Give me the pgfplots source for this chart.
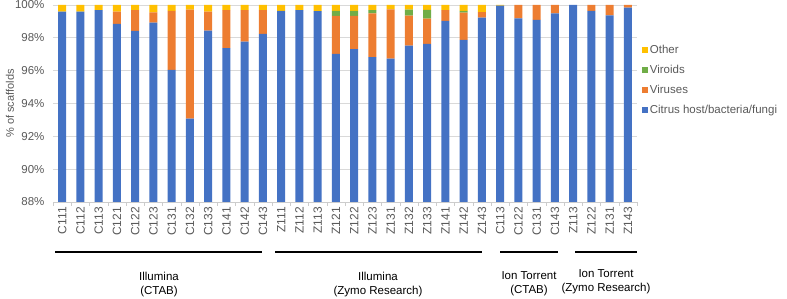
\documentclass[border=0pt]{standalone}
\usepackage{pgfplots}
\pgfplotsset{compat=1.18}
\usepackage{pgfplotstable}
\usepackage{fontspec}
\setmainfont{Liberation Sans}
\definecolor{cblue}{HTML}{4472C4}
\definecolor{corange}{HTML}{ED7D31}
\definecolor{cgreen}{HTML}{70AD47}
\definecolor{cyellow}{HTML}{FFC000}
\definecolor{tgray}{HTML}{595959}
\pgfplotstableread{
x  host   virus  viroid other
0  99.60  0.00   0.00   0.40
1  99.60  0.00   0.00   0.40
2  99.68  0.00   0.00   0.32
3  98.85  0.75   0.00   0.40
4  98.42  1.26   0.00   0.32
5  98.93  0.62   0.00   0.45
6  96.05  3.59   0.00   0.36
7  93.08  6.64   0.00   0.28
8  98.44  1.16   0.00   0.40
9  97.37  2.31   0.00   0.32
10 97.77  1.91   0.00   0.32
11 98.24  1.44   0.00   0.32
12 99.64  0.00   0.00   0.36
13 99.68  0.00   0.00   0.32
14 99.62  0.00   0.00   0.38
15 97.02  2.31   0.31   0.36
16 97.31  2.02   0.31   0.36
17 96.82  2.67   0.19   0.32
18 96.74  3.00   0.00   0.26
19 97.53  1.82   0.37   0.28
20 97.63  1.54   0.53   0.30
21 99.03  0.65   0.00   0.32
22 97.87  1.66   0.11   0.36
23 99.23  0.34   0.00   0.43
24 99.96  0.00   0.00   0.04
25 99.19  0.81   0.00   0.00
26 99.09  0.91   0.00   0.00
27 99.49  0.51   0.00   0.00
28 100.00 0.00   0.00   0.00
29 99.64  0.36   0.00   0.00
30 99.37  0.63   0.00   0.00
31 99.84  0.16   0.00   0.00
}\datatable
\begin{document}
\begin{tikzpicture}
\useasboundingbox (-53pt,-97pt) rectangle (734pt,202pt);
\begin{axis}[
  at={(0pt,0pt)}, anchor=south west,
  scale only axis, width=584pt, height=197pt,
  ybar stacked, bar width=7.8pt,
  xmin=-0.5, xmax=31.5, ymin=88, ymax=100,
  enlargelimits=false,
  xtick={0,...,31},
  xticklabels={C111,C112,C113,C121,C122,C123,C131,C132,C133,C141,C142,C143,Z111,Z112,Z113,Z121,Z122,Z123,Z131,Z132,Z133,Z141,Z142,Z143,C113,C122,C131,C143,Z113,Z122,Z131,Z143},
  x tick label style={rotate=90, anchor=east, font=\fontsize{12}{13}\selectfont, text=tgray, inner sep=1pt, yshift=-0pt, xshift=0pt},
  xticklabel shift=4pt,
  minor xtick={-0.5,0.5,...,31.5},
  major tick length=0pt, minor tick length=4pt, tick align=outside,
  x tick style={draw=gray!40},
  ytick={88,90,...,100},
  yticklabel={\pgfmathprintnumber{\tick}\%},
  /pgf/number format/assume math mode=true,
  y tick label style={font=\fontsize{11.5}{13}\selectfont, text=tgray, xshift=-5pt},
  ymajorgrids, grid style={draw=gray!30, line width=0.8pt},
  axis x line*=bottom, axis y line*=left,
  x axis line style={draw=gray!40, line width=0.8pt},
  y axis line style={draw=none},
  ylabel={\% of scaffolds},
  ylabel style={at={(axis description cs:-0.0736,0.5)}, anchor=center, font=\fontsize{11}{13}\selectfont, text=tgray},
  clip=false,
  legend style={at={(1.008,0.62)}, anchor=west, draw=none, fill=none,
    font=\fontsize{11.5}{13}\selectfont, text=tgray, row sep=6pt,
    inner sep=0pt},
  legend cell align=left,
  reverse legend,
  legend image code/.code={\fill[#1] (0pt,-3pt) rectangle (6pt,3pt);},
]
\addplot[fill=cblue, draw=none] table[x=x, y=host] {\datatable};
\addlegendentry{Citrus host/bacteria/fungi}
\addplot[fill=corange, draw=none] table[x=x, y=virus] {\datatable};
\addlegendentry{Viruses}
\addplot[fill=cgreen, draw=none] table[x=x, y=viroid] {\datatable};
\addlegendentry{Viroids}
\addplot[fill=cyellow, draw=none] table[x=x, y=other] {\datatable};
\addlegendentry{Other}
\end{axis}
\begin{scope}[line width=1.4pt]
\draw (2pt,-50pt) -- (209pt,-50pt);
\draw (222pt,-50pt) -- (429pt,-50pt);
\draw (447pt,-50pt) -- (505pt,-50pt);
\draw (522pt,-50pt) -- (584pt,-50pt);
\end{scope}
\begin{scope}[every node/.style={align=center, font=\fontsize{11.5}{14}\selectfont}]
\node at (106pt,-83pt) {Illumina\\(CTAB)};
\node at (325pt,-83pt) {Illumina\\(Zymo Research)};
\node at (476pt,-82pt) {Ion Torrent\\(CTAB)};
\node at (553pt,-80pt) {Ion Torrent\\(Zymo Research)};
\end{scope}
\end{tikzpicture}
\end{document}
